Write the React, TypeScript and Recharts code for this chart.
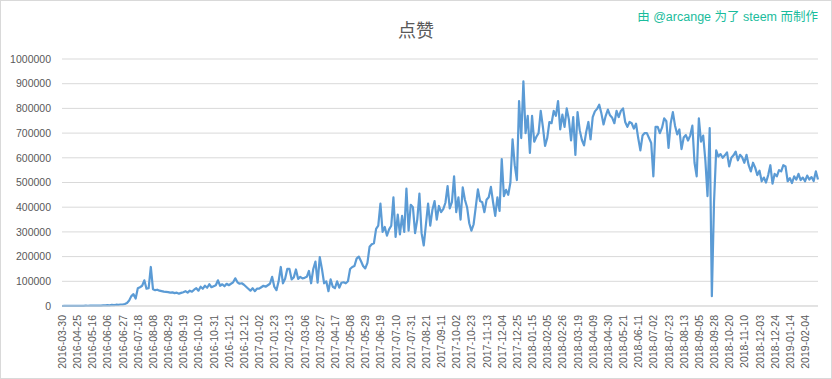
import React from 'react';
import { LineChart, Line, XAxis, YAxis, CartesianGrid } from 'recharts';

const dateLabels = [
  '2016-03-30', '2016-04-25', '2016-05-16', '2016-06-06', '2016-06-27', '2016-07-18', '2016-08-08',
  '2016-08-29', '2016-09-19', '2016-10-10', '2016-10-31', '2016-11-21', '2016-12-12', '2017-01-02',
  '2017-01-23', '2017-02-13', '2017-03-06', '2017-03-27', '2017-04-17', '2017-05-08', '2017-05-29',
  '2017-06-19', '2017-07-10', '2017-07-31', '2017-08-21', '2017-09-11', '2017-10-02', '2017-10-23',
  '2017-11-13', '2017-12-04', '2017-12-25', '2018-01-15', '2018-02-05', '2018-02-26', '2018-03-19',
  '2018-04-09', '2018-04-30', '2018-05-21', '2018-06-11', '2018-07-02', '2018-07-23', '2018-08-13',
  '2018-09-05', '2018-09-28', '2018-10-20', '2018-11-10', '2018-12-03', '2018-12-24', '2019-01-14',
  '2019-02-04',
];

const yTicks = [0, 100000, 200000, 300000, 400000, 500000, 600000, 700000, 800000, 900000, 1000000];

// one value every 3 days, 7 values per labelled 21-day step
const likes2016 = [
  0, 300, 200, 500, 400, 600, 800,
  700, 900, 1000, 800, 1200, 1100, 1400,
  1300, 1600, 1500, 1900, 1800, 2200, 2500,
  3200, 2800, 4500, 3600, 5200, 4400, 6000,
  6000, 8000, 12000, 22000, 40000, 48000, 30000,
  72000, 76000, 82000, 104000, 70000, 72000, 158000,
  68000, 64000, 66000, 62000, 60000, 58000, 57000,
  56000, 54000, 55000, 52000, 54000, 50000, 53000,
  56000, 60000, 54000, 62000, 58000, 66000, 72000,
  62000, 78000, 70000, 82000, 74000, 88000, 76000,
  80000, 84000, 104000, 82000, 88000, 80000, 90000,
  84000, 90000, 96000, 112000, 96000, 90000, 92000,
  86000, 78000, 70000, 62000, 72000, 60000, 70000,
];

const likes2017 = [
  70000, 76000, 82000, 78000, 84000, 90000, 118000,
  78000, 64000, 100000, 158000, 92000, 110000, 150000,
  150000, 108000, 116000, 148000, 110000, 118000, 112000,
  114000, 118000, 142000, 92000, 150000, 180000, 95000,
  198000, 150000, 92000, 100000, 60000, 108000, 78000,
  72000, 100000, 74000, 94000, 96000, 92000, 100000,
  150000, 158000, 162000, 192000, 200000, 182000, 162000,
  152000, 175000, 240000, 250000, 254000, 312000, 325000,
  415000, 300000, 320000, 285000, 310000, 325000, 440000,
  280000, 370000, 290000, 365000, 300000, 475000, 305000,
  410000, 400000, 295000, 350000, 455000, 295000, 245000,
  330000, 415000, 325000, 390000, 425000, 350000, 405000,
  380000, 392000, 418000, 485000, 395000, 420000, 525000,
  380000, 440000, 350000, 480000, 430000, 400000, 335000,
  305000, 330000, 400000, 472000, 425000, 420000, 380000,
  430000, 440000, 482000, 420000, 365000, 440000, 385000,
  595000, 445000, 470000, 450000, 500000, 675000, 570000,
  510000, 830000, 680000, 910000, 700000, 770000, 620000,
];

const likes2018 = [
  770000, 665000, 685000, 700000, 790000, 725000, 648000,
  680000, 745000, 740000, 790000, 770000, 830000, 715000,
  775000, 725000, 800000, 755000, 670000, 765000, 612000,
  785000, 712000, 672000, 650000, 705000, 745000, 675000,
  765000, 788000, 798000, 815000, 780000, 735000, 770000,
  795000, 772000, 762000, 740000, 790000, 765000, 790000,
  800000, 745000, 725000, 745000, 740000, 718000, 738000,
  680000, 630000, 690000, 700000, 700000, 680000, 660000,
  525000, 725000, 725000, 700000, 722000, 760000, 748000,
  640000, 740000, 785000, 730000, 695000, 715000, 635000,
  682000, 692000, 670000, 690000, 730000, 580000, 525000,
  760000, 665000, 690000, 590000, 445000, 720000, 40000,
  420000, 630000, 605000, 615000, 600000, 610000, 622000,
  565000, 600000, 610000, 625000, 590000, 612000, 602000,
  580000, 612000, 570000, 545000, 580000, 560000, 530000,
  548000, 505000, 520000, 500000, 530000, 570000, 495000,
  535000, 525000, 550000, 545000, 570000, 565000, 505000,
];

const likes2019 = [
  518000, 498000, 525000, 512000, 535000, 510000, 520000,
  505000, 528000, 512000, 522000, 506000, 545000, 512000,
];

const STEP = 3;
const TICK_EVERY = 21;
const values = [...likes2016, ...likes2017, ...likes2018, ...likes2019];
const data = values.map((v, i) => ({ day: i * STEP, likes: v }));
const lastDay = (values.length - 1) * STEP;
const xTicks = dateLabels.map((_, k) => k * TICK_EVERY);

const FONT = '"Liberation Sans", Arial, sans-serif';

const XTick = (props: any) => {
  const { x, y, payload } = props;
  const label = dateLabels[Math.round(payload.value / TICK_EVERY)];
  return (
    <text
      x={x}
      y={y}
      transform={`rotate(-90 ${x} ${y})`}
      textAnchor="end"
      dominantBaseline="central"
      fontSize={10.5}
      fill="#595959"
      fontFamily={FONT}
    >
      {label}
    </text>
  );
};

export default function App() {
  return (
    <div
      style={{
        position: 'relative',
        width: 832,
        height: 379,
        background: '#fff',
        boxShadow: 'inset 0 0 0 1px #d9d9d9',
        overflow: 'hidden',
      }}
    >
      <style>{'body{margin:0}'}</style>
      <div
        style={{
          position: 'absolute',
          left: 0,
          width: 832,
          top: 19,
          textAlign: 'center',
          fontSize: 18,
          lineHeight: '20px',
          color: '#595959',
          fontFamily: '"Noto Sans CJK SC", sans-serif',
        }}
      >
        点赞
      </div>
      <div
        style={{
          position: 'absolute',
          right: 14,
          top: 9,
          fontSize: 12.5,
          lineHeight: '16px',
          color: '#1abc9c',
          fontFamily: '"Liberation Sans", "Noto Sans CJK SC", sans-serif',
          whiteSpace: 'nowrap',
        }}
      >
        由 @arcange 为了 steem 而制作
      </div>
      <div style={{ position: 'absolute', left: 0, top: 0 }}>
        <LineChart width={832} height={379} data={data} margin={{ top: 59, right: 14, bottom: 0, left: 0 }}>
          <CartesianGrid vertical={false} stroke="#d9d9d9" />
          <XAxis
            dataKey="day"
            type="number"
            domain={[0, lastDay]}
            ticks={xTicks}
            interval={0}
            height={73}
            tickLine={false}
            tickMargin={3}
            axisLine={{ stroke: '#d9d9d9' }}
            tick={<XTick />}
          />
          <YAxis
            type="number"
            domain={[0, 1000000]}
            ticks={yTicks}
            width={62}
            axisLine={false}
            tickLine={false}
            tickMargin={5}
            interval={0}
            tick={{ fontSize: 10.5, fill: '#595959', fontFamily: FONT }}
          />
          <Line
            type="linear"
            dataKey="likes"
            stroke="#5b9bd5"
            strokeWidth={2.2}
            strokeLinejoin="round"
            dot={false}
            isAnimationActive={false}
          />
        </LineChart>
      </div>
    </div>
  );
}
